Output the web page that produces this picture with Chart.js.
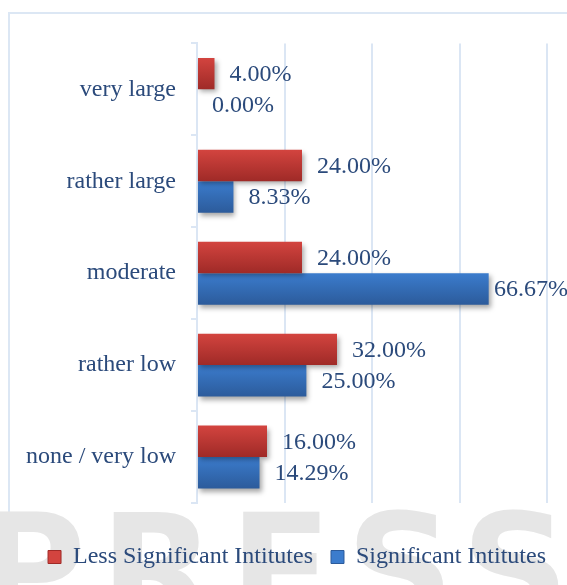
<!DOCTYPE html>
<html>
<head>
<meta charset="utf-8">
<script src="https://cdn.jsdelivr.net/npm/chart.js@4.4.0/dist/chart.umd.min.js"></script>
<style>
    html, body { margin: 0; padding: 0; background: #fff; width: 567px; height: 585px; overflow: hidden; }
    #moldura { position: absolute; left: 8px; top: 12px; width: 640px; height: 640px; border: 2px solid #dce7f4; box-sizing: border-box; }
    #marca { position: absolute; left: -24px; top: 482px; font: bold 150px "DejaVu Sans", sans-serif; color: #e6e6e6; letter-spacing: 14px; white-space: nowrap; }
    #caixa { position: absolute; left: 10px; top: 14px; width: 578px; height: 594px; }
</style>
</head>
<body>
<div id="moldura"></div>
<div id="marca">PRESS</div>
<div id="caixa"><canvas id="grafico"></canvas></div>
<script>
// dados do grafico
var categorias = ['very large', 'rather large', 'moderate', 'rather low', 'none / very low'];
var serieMenos = [4.00, 24.00, 24.00, 32.00, 16.00];
var serieSignif = [0.00, 8.33, 66.67, 25.00, 14.29];
var nomesSeries = ['Less Significant Intitutes', 'Significant Intitutes'];
var ticksX = [0, 20, 40, 60, 80];

var fonte = '"Liberation Serif", "Times New Roman", serif';
var corTexto = '#2b4a7b';
var corGrade = '#dbe6f4';

var gradientes = [
    ['#d3443f', '#9f2a27'],
    ['#3b7ccd', '#2c5b9b']
];

// gradiente por barra + sombra
var pluginBarras = {
    id: 'pluginBarras',
    beforeDatasetsDraw: function (chart) {
        var ctx = chart.ctx;
        chart.data.datasets.forEach(function (ds, i) {
            chart.getDatasetMeta(i).data.forEach(function (el) {
                var g = ctx.createLinearGradient(0, el.y - el.height / 2, 0, el.y + el.height / 2);
                g.addColorStop(0, gradientes[i][0]);
                g.addColorStop(1, gradientes[i][1]);
                el.options.backgroundColor = g;
            });
        });
        ctx.save();
        ctx.shadowColor = 'rgba(0,0,0,0.35)';
        ctx.shadowBlur = 5;
        ctx.shadowOffsetX = 2;
        ctx.shadowOffsetY = 3;
    },
    afterDatasetsDraw: function (chart) {
        var ctx = chart.ctx;
        ctx.restore();
        // rotulos de valor
        ctx.save();
        ctx.font = '24px ' + fonte;
        ctx.fillStyle = corTexto;
        ctx.textBaseline = 'middle';
        ctx.textAlign = 'left';
        chart.data.datasets.forEach(function (ds, i) {
            chart.getDatasetMeta(i).data.forEach(function (el, j) {
                var txt = ds.data[j].toFixed(2) + '%';
                var w = ctx.measureText(txt).width;
                var x = Math.min(el.x + 15, chart.width - 20 - w);
                ctx.fillText(txt, x, el.y + 1);
            });
        });
        ctx.restore();
    }
};

new Chart(document.getElementById('grafico'), {
    type: 'bar',
    data: {
        labels: categorias,
        datasets: [{
            label: nomesSeries[0],
            data: serieMenos,
            backgroundColor: function () { return gradientes[0][1]; }
        }, {
            label: nomesSeries[1],
            data: serieSignif,
            backgroundColor: function () { return gradientes[1][1]; }
        }]
    },
    options: {
        indexAxis: 'y',
        responsive: true,
        maintainAspectRatio: false,
        animation: false,
        categoryPercentage: 0.685,
        barPercentage: 1.0,
        layout: { padding: { top: 28, left: 4, right: 8, bottom: 29 } },
        scales: {
            x: {
                min: ticksX[0],
                max: ticksX[ticksX.length - 1],
                afterBuildTicks: function (s) { s.ticks = ticksX.map(function (v) { return { value: v }; }); },
                ticks: { display: false },
                grid: { color: corGrade, lineWidth: 2, drawTicks: false },
                border: { display: false },
                afterFit: function (s) { s.height = 24; }
            },
            y: {
                ticks: { color: corTexto, font: { family: fonte, size: 24 }, padding: 15 },
                grid: { drawOnChartArea: false, color: corGrade, lineWidth: 2, tickLength: 6 },
                border: { color: corGrade, width: 2 },
                afterFit: function (s) { s.width = 183; }
            },
            // espaco vazio a direita do grafico
            yVazio: {
                type: 'linear',
                position: 'right',
                ticks: { display: false },
                grid: { display: false },
                border: { display: false },
                afterFit: function (s) { s.width = 33; }
            }
        },
        plugins: {
            legend: {
                position: 'bottom',
                labels: {
                    color: corTexto,
                    font: { family: fonte, size: 24 },
                    boxWidth: 13,
                    boxHeight: 13,
                    padding: 18,
                    generateLabels: function (chart) {
                        return chart.data.datasets.map(function (ds, i) {
                            return {
                                text: ds.label,
                                fillStyle: gradientes[i][0],
                                strokeStyle: gradientes[i][1],
                                lineWidth: 1,
                                fontColor: corTexto,
                                datasetIndex: i
                            };
                        });
                    }
                }
            },
            tooltip: { enabled: false }
        }
    },
    plugins: [pluginBarras]
});
</script>
</body>
</html>
